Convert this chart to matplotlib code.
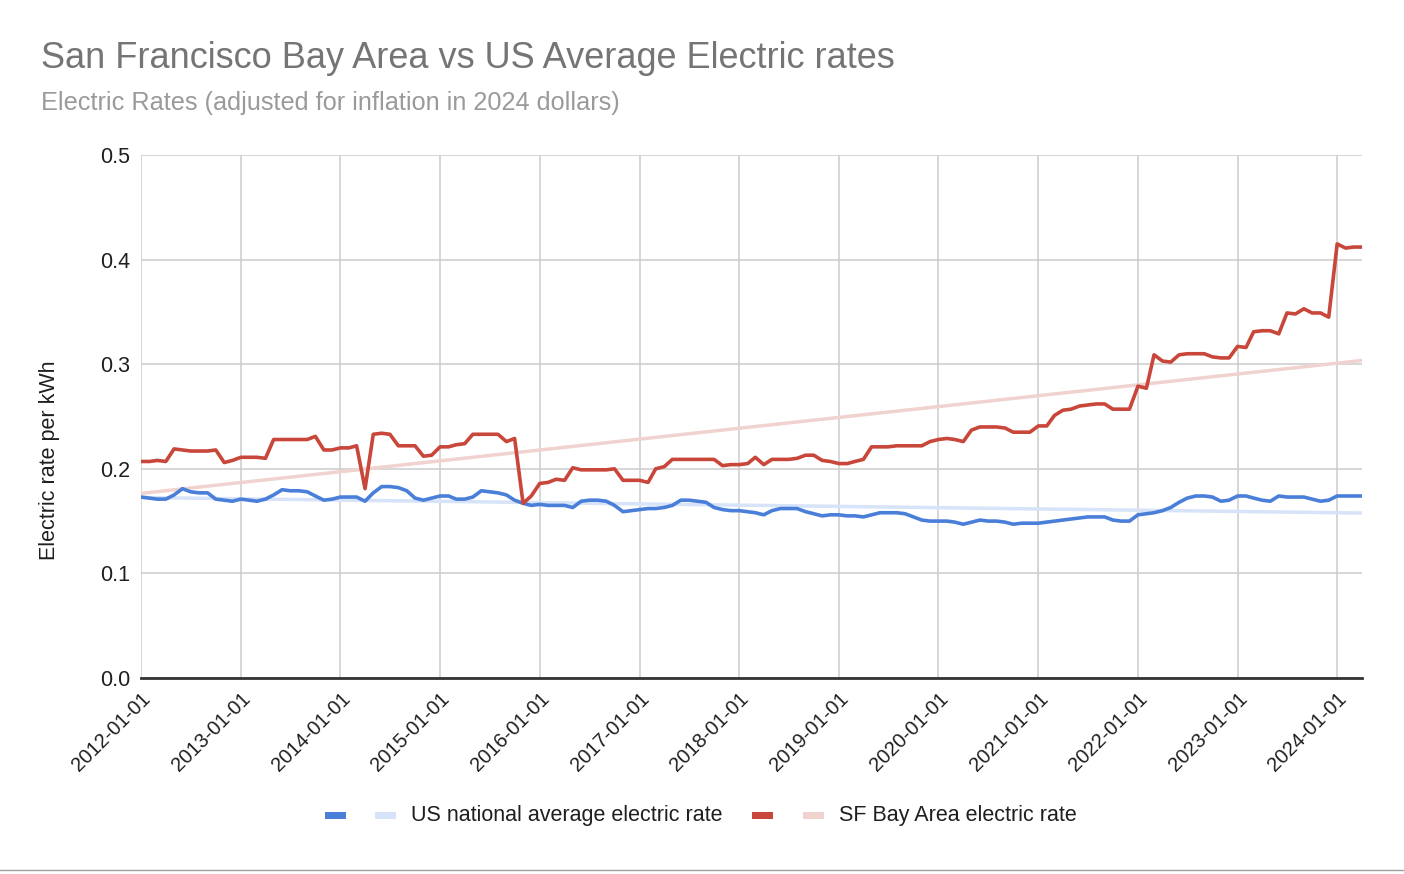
import numpy as np
import pandas as pd
import matplotlib
matplotlib.use("Agg")
import matplotlib.pyplot as plt
import matplotlib.dates as mdates
from matplotlib.patches import Rectangle
from matplotlib.lines import Line2D

plt.rcParams['font.family'] = ['Liberation Sans', 'DejaVu Sans']

# ---------------- data ----------------
dates = pd.date_range("2012-01-01", "2024-04-01", freq="MS")

us_rate = [
    0.173, 0.172, 0.171, 0.171, 0.175, 0.181, 0.178, 0.177, 0.177, 0.171, 0.170, 0.169,
    0.171, 0.170, 0.169, 0.171, 0.175, 0.180, 0.179, 0.179, 0.178, 0.174, 0.170, 0.171,
    0.173, 0.173, 0.173, 0.169, 0.177, 0.183, 0.183, 0.182, 0.179, 0.172, 0.170, 0.172,
    0.174, 0.174, 0.171, 0.171, 0.173, 0.179, 0.178, 0.177, 0.175, 0.170, 0.167, 0.165,
    0.166, 0.165, 0.165, 0.165, 0.163, 0.169, 0.170, 0.170, 0.169, 0.165, 0.159, 0.160,
    0.161, 0.162, 0.162, 0.163, 0.165, 0.170, 0.170, 0.169, 0.168, 0.163, 0.161, 0.160,
    0.160, 0.159, 0.158, 0.156, 0.160, 0.162, 0.162, 0.162, 0.159, 0.157, 0.155, 0.156,
    0.156, 0.155, 0.155, 0.154, 0.156, 0.158, 0.158, 0.158, 0.157, 0.154, 0.151, 0.150,
    0.150, 0.150, 0.149, 0.147, 0.149, 0.151, 0.150, 0.150, 0.149, 0.147, 0.148, 0.148,
    0.148, 0.149, 0.150, 0.151, 0.152, 0.153, 0.154, 0.154, 0.154, 0.151, 0.150, 0.150,
    0.156, 0.157, 0.158, 0.160, 0.163, 0.168, 0.172, 0.174, 0.174, 0.173, 0.169, 0.170,
    0.174, 0.174, 0.172, 0.170, 0.169, 0.174, 0.173, 0.173, 0.173, 0.171, 0.169, 0.170,
    0.174, 0.174, 0.174, 0.174,
]

sf_rate = [
    0.207, 0.207, 0.208, 0.207, 0.219, 0.218, 0.217, 0.217, 0.217, 0.218, 0.206, 0.208,
    0.211, 0.211, 0.211, 0.210, 0.228, 0.228, 0.228, 0.228, 0.228, 0.231, 0.218, 0.218,
    0.220, 0.220, 0.222, 0.181, 0.233, 0.234, 0.233, 0.222, 0.222, 0.222, 0.212, 0.213,
    0.221, 0.221, 0.223, 0.224, 0.233, 0.233, 0.233, 0.233, 0.226, 0.229, 0.167, 0.174,
    0.186, 0.187, 0.190, 0.189, 0.201, 0.199, 0.199, 0.199, 0.199, 0.200, 0.189, 0.189,
    0.189, 0.187, 0.200, 0.202, 0.209, 0.209, 0.209, 0.209, 0.209, 0.209, 0.203, 0.204,
    0.204, 0.205, 0.211, 0.204, 0.209, 0.209, 0.209, 0.210, 0.213, 0.213, 0.208, 0.207,
    0.205, 0.205, 0.207, 0.209, 0.221, 0.221, 0.221, 0.222, 0.222, 0.222, 0.222, 0.226,
    0.228, 0.229, 0.228, 0.226, 0.237, 0.240, 0.240, 0.240, 0.239, 0.235, 0.235, 0.235,
    0.241, 0.241, 0.251, 0.256, 0.257, 0.260, 0.261, 0.262, 0.262, 0.257, 0.257, 0.257,
    0.279, 0.277, 0.309, 0.303, 0.302, 0.309, 0.310, 0.310, 0.310, 0.307, 0.306, 0.306,
    0.317, 0.316, 0.331, 0.332, 0.332, 0.329, 0.349, 0.348, 0.353, 0.349, 0.349, 0.345,
    0.415, 0.411, 0.412, 0.412,
]

series_labels = ["US national average electric rate", "SF Bay Area electric rate"]
year_ticks = pd.date_range("2012-01-01", "2024-01-01", freq="YS")
y_ticks = [0.0, 0.1, 0.2, 0.3, 0.4, 0.5]

# ---------------- style ----------------
BLUE = "#4a7fd9"
BLUE_T = "#d6e3f8"
RED = "#c9463a"
RED_T = "#f0d2cf"
TXT = "#1f1f1f"

W, H = 1404, 874
fig = plt.figure(figsize=(W / 100, H / 100), dpi=100)
ax = fig.add_axes([141 / W, 1 - 678 / H, (1362 - 141) / W, (678 - 155) / H])

xnum = mdates.date2num(dates)

# trendlines (linear regression, like the source chart's trendline option)
for vals, col in ((us_rate, BLUE_T), (sf_rate, RED_T)):
    k, b = np.polyfit(xnum, np.array(vals), 1)
    ax.plot(dates, k * xnum + b, color=col, lw=2.5, zorder=2, solid_capstyle='butt')

ax.plot(dates, us_rate, color=BLUE, lw=2.6, zorder=3)
ax.plot(dates, sf_rate, color=RED, lw=2.6, zorder=4)

ax.set_xlim(dates[0], dates[-1])
ax.set_ylim(0, 0.5)
ax.set_yticks(y_ticks)
ax.set_yticklabels([f"{v:.1f}" for v in y_ticks])
ax.set_xticks(year_ticks)
ax.set_xticklabels([d.strftime("%Y-%m-%d") for d in year_ticks])

ax.grid(True, color="#cccccc", lw=1.1)
ax.set_axisbelow(True)
for s in ("top", "right", "left"):
    ax.spines[s].set_visible(False)
ax.spines["bottom"].set_color("#333333")
ax.spines["bottom"].set_linewidth(2)
ax.spines["bottom"].set_zorder(5)
ax.tick_params(axis="both", length=0, colors=TXT)
ax.tick_params(axis="y", pad=8, labelsize=15.5)
ax.tick_params(axis="x", pad=8, labelsize=14.5)
for lbl in ax.get_xticklabels():
    lbl.set_rotation(45)
    lbl.set_ha("right")
    lbl.set_va("top")
    lbl.set_rotation_mode("anchor")

# y-axis title (positioned as in the source, below the axis centre)
fig.text(50 / W, 1 - 460 / H, "Electric rate per kWh", fontsize=15.5, color=TXT,
         rotation=90, ha="center", va="center")

# titles
fig.text(41 / W, 1 - 58 / H, "San Francisco Bay Area vs US Average Electric rates",
         fontsize=26, color="#757575", ha="left", va="center")
fig.text(41 / W, 1 - 103 / H, "Electric Rates (adjusted for inflation in 2024 dollars)",
         fontsize=18.2, color="#9a9a9a", ha="left", va="center")

# legend (drawn manually to mimic source layout)
ly = 815
def patch(x0, col):
    fig.patches.append(Rectangle((x0 / W, 1 - (ly + 3.5) / H), 21 / W, 7 / H,
                                 transform=fig.transFigure, color=col, lw=0))
patch(325, BLUE)
patch(375, BLUE_T)
fig.text(411 / W, 1 - ly / H, series_labels[0], fontsize=15.5, color=TXT,
         ha="left", va="center")
patch(752, RED)
patch(803, RED_T)
fig.text(839 / W, 1 - ly / H, series_labels[1], fontsize=15.5, color=TXT,
         ha="left", va="center")

# screenshot border line at bottom
fig.add_artist(Line2D([0, 1], [1 - 870 / H, 1 - 870 / H], transform=fig.transFigure,
                      color="#a0a0a0", lw=1))

fig.savefig("out.png", dpi=100)
